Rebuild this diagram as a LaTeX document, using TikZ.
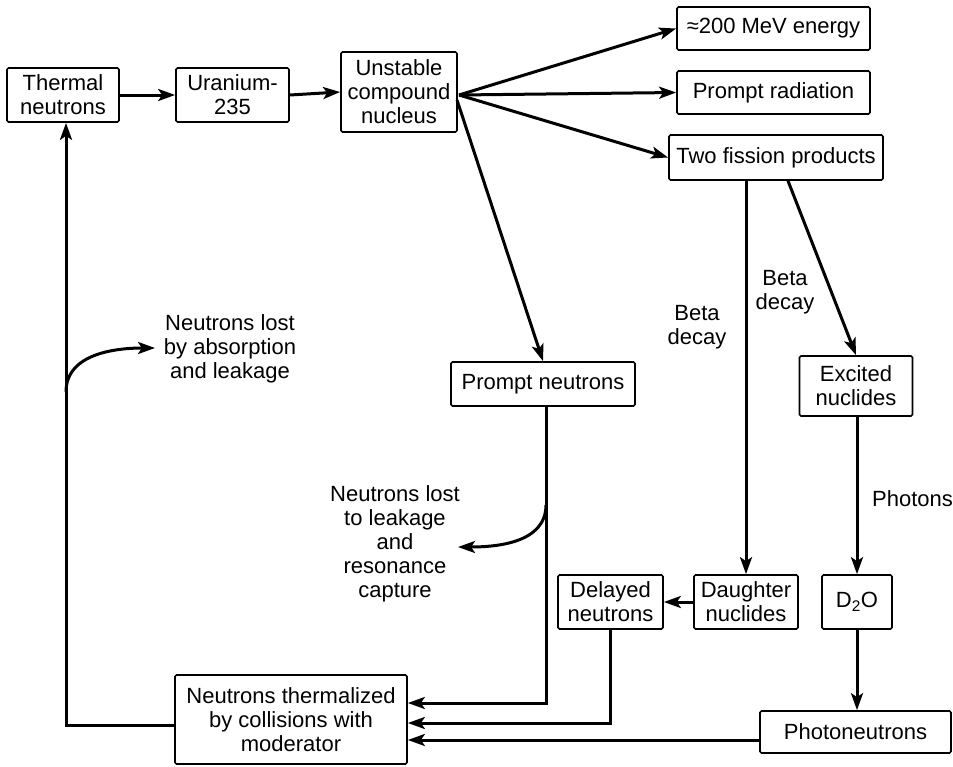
\documentclass[tikz,border=0pt]{standalone}
\usepackage{fontspec}
\setmainfont{Liberation Sans}
\usetikzlibrary{arrows.meta,calc}
\begin{document}
\begin{tikzpicture}[x=1pt,y=-1pt,
  box/.style={draw,line width=1.7pt,rounded corners=1.5pt,inner sep=0pt,align=center,font=\fontsize{22}{24}\selectfont},
  lbl/.style={inner sep=0pt,align=center,font=\fontsize{22}{24}\selectfont},
  arr/.style={line width=3pt,-{Stealth[length=17pt,width=12pt,inset=4pt]}},
  ln/.style={line width=3pt}]
\useasboundingbox (0,0) rectangle (953,766);
% boxes
\node[box,minimum width=112pt,minimum height=54pt] (thermal) at (63,95) {Thermal\\neutrons};
\node[box,minimum width=113pt,minimum height=54pt] (uranium) at (232.5,95) {Uranium-\\235};
\node[box,minimum width=116pt,minimum height=80pt] (unstable) at (399,92) {Unstable\\compound\\nucleus};
\node[box,minimum width=193pt,minimum height=43pt] (energy) at (773.5,28.5) {≈200 MeV energy};
\node[box,minimum width=193pt,minimum height=43pt] (promptrad) at (773.5,92.5) {Prompt radiation};
\node[box,minimum width=214pt,minimum height=45pt] (fission) at (776,157.5) {Two fission products};
\node[box,minimum width=184pt,minimum height=44pt] (promptn) at (543,384) {Prompt neutrons};
\node[box,minimum width=113pt,minimum height=60pt] (excited) at (856,386) {Excited\\nuclides};
\node[box,minimum width=105pt,minimum height=54pt] (delayed) at (610.5,602) {Delayed\\neutrons};
\node[box,minimum width=104pt,minimum height=54pt] (daughter) at (746,602) {Daughter\\nuclides};
\node[box,minimum width=70pt,minimum height=54pt] (d2o) at (857,602) {D\textsubscript{2}O};
\node[box,minimum width=191pt,minimum height=42pt] (photo) at (855.5,732) {Photoneutrons};
\node[box,minimum width=232pt,minimum height=89pt] (therm) at (291,719.5) {Neutrons thermalized\\by collisions with\\moderator};
% labels
\node[lbl] (lost1) at (230,349) {Neutrons lost\\by absorption\\and leakage};
\node[lbl] (lost2) at (395,544) {Neutrons lost\\to leakage\\and\\resonance\\capture};
\node[lbl] (beta1) at (697,327) {Beta\\decay};
\node[lbl] (beta2) at (785,292) {Beta\\decay};
\node[lbl,anchor=west] (photons) at (872,499) {Photons};
% coordinates
\coordinate (fan) at (459,95);
\coordinate (fan2) at (457,100);
\coordinate (c1) at (66,392);
\coordinate (t1) at (155,348);
\coordinate (c2) at (546,505);
\coordinate (t2) at (458,547);
\coordinate (ph) at (0,740);
% arrows
\draw[arr] (thermal.east) -- (uranium.west);
\draw[arr] (uranium.east) -- (unstable.west);
\draw[arr] (fan) -- (energy.west);
\draw[arr] (fan) -- (promptrad.west);
\draw[arr] (fan) -- (fission.west);
\draw[arr] (fan2) -- (promptn.north);
\draw[arr] (daughter.north |- fission.south) -- (daughter.north);
\draw[arr] ([xshift=12pt]fission.south) -- (excited.north);
\draw[arr] (d2o.north |- excited.south) -- (d2o.north);
\draw[arr] (d2o.south) -- (d2o.south |- photo.north);
\draw[arr] (daughter.west) -- (delayed.east);
\draw[arr] ([xshift=3pt]promptn.south) |- ([yshift=16.5pt]therm.east);
\draw[arr] (delayed.south) |- ([yshift=-3.5pt]therm.east);
\draw[arr] (photo.west |- ph) -- (therm.east |- ph);
\draw[arr] ([yshift=-5.5pt]therm.west) -| ([xshift=3pt]thermal.south);
\draw[arr] (c1) to[out=90,in=180] (t1);
\draw[arr] (c2) to[out=270,in=0] (t2);
\end{tikzpicture}
\end{document}
